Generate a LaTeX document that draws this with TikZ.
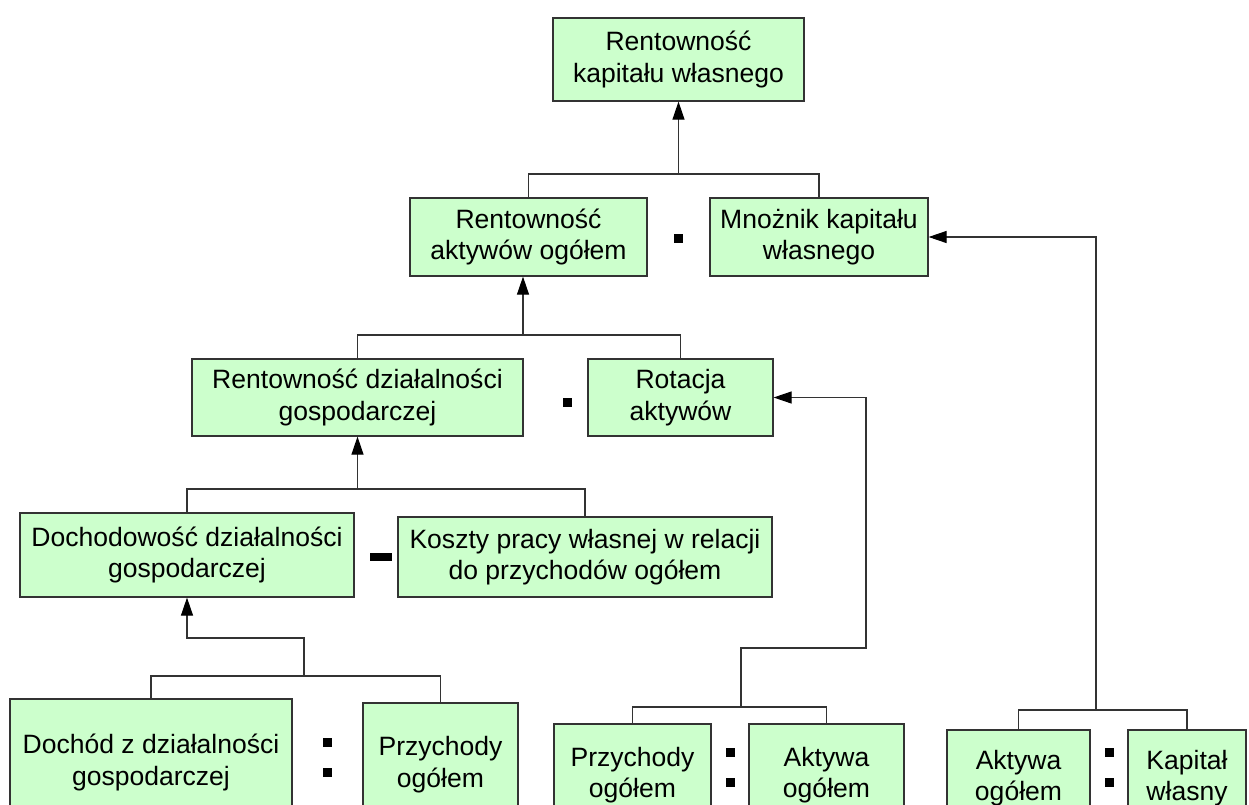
\documentclass[tikz,border=0pt]{standalone}
\usepackage{fontspec}
\setmainfont{Liberation Sans}
\usetikzlibrary{arrows.meta}
\definecolor{zielony}{HTML}{CCFFCC}
\definecolor{ramka}{HTML}{333333}
\tikzset{
  pole/.style={draw=ramka, fill=zielony, line width=0.7pt, align=center, inner sep=0pt,
    font=\fontsize{15.1}{18}\selectfont},
  linia/.style={draw=ramka, line width=0.6pt},
  strzalka/.style={linia, -{Triangle[length=0.36cm,width=0.24cm,color=black]}},
  kropka/.style={fill=black, inner sep=0pt, minimum size=0.18cm},
  minus/.style={fill=black, inner sep=0pt, minimum width=0.44cm, minimum height=0.16cm}
}

\begin{document}
\begin{tikzpicture}[x=0.02cm, y=-0.02cm]
  %%%%% START %%%%%
  \clip (0,0) rectangle (1249,805);

  \node[pole, minimum width=5.02cm, minimum height=1.66cm] (rke) at (678.5,59.5) {Rentowność\\kapitału własnego};

  \node[pole, minimum width=4.74cm, minimum height=1.56cm] (rao) at (528.5,237) {Rentowność\\aktywów ogółem};
  \node[pole, minimum width=4.36cm, minimum height=1.56cm] (mkw) at (819,237) {Mnożnik kapitału\\własnego};
  \node[kropka] (k1) at (678,238) {};

  \node[pole, minimum width=6.62cm, minimum height=1.54cm] (rdg) at (357.5,397.5) {Rentowność działalności\\gospodarczej};
  \node[pole, minimum width=3.70cm, minimum height=1.54cm] (rot) at (680.5,397.5) {Rotacja\\aktywów};
  \node[kropka] (k2) at (567,402) {};

  \node[pole, minimum width=6.68cm, minimum height=1.68cm] (ddg) at (187,555) {Dochodowość działalności\\gospodarczej};
  \node[pole, minimum width=7.48cm, minimum height=1.60cm] (kpw) at (585,557) {Koszty pracy własnej w relacji\\do przychodów ogółem};
  \node[minus] (m1) at (381,557) {};

  \node[pole, minimum width=5.64cm, minimum height=2.54cm] (dzd) at (151,762.5) {Dochód z działalności\\gospodarczej};
  \node[pole, minimum width=3.10cm, minimum height=2.46cm] (prz1) at (440.5,764.5) {Przychody\\ogółem};
  \node[kropka] (k3) at (327,742) {};
  \node[kropka] (k4) at (327,772) {};

  \node[pole, minimum width=3.14cm, minimum height=2.04cm] (prz2) at (632.5,775) {Przychody\\ogółem};
  \node[pole, minimum width=3.10cm, minimum height=2.04cm] (akt1) at (826.5,775) {Aktywa\\ogółem};
  \node[kropka] (k5) at (730,752) {};
  \node[kropka] (k6) at (730,782) {};

  \node[pole, minimum width=2.86cm, minimum height=1.92cm] (akt2) at (1018.5,778) {Aktywa\\ogółem};
  \node[pole, minimum width=2.36cm, minimum height=1.92cm] (kap) at (1187,778) {Kapitał\\własny};
  \node[kropka] (k7) at (1109,752) {};
  \node[kropka] (k8) at (1109,782) {};

  % laczenia
  \coordinate (w1) at (678.5,174);
  \draw[linia] (rao.north) |- (w1) -| (mkw.north);
  \draw[strzalka] (w1) -- (rke.south);

  \coordinate (w2) at (523,335);
  \draw[linia] (rdg.north) |- (w2) -| (rot.north);
  \draw[strzalka] (w2) -- (w2 |- rao.south);

  \coordinate (w3) at (357.5,489);
  \draw[linia] (ddg.north) |- (w3) -| (kpw.north);
  \draw[strzalka] (w3) -- (rdg.south);

  \coordinate (w4) at (304,676);
  \coordinate (z4) at (304,638);
  \draw[linia] (dzd.north) |- (w4) -| (prz1.north);
  \draw[strzalka] (w4) -- (z4) -| (ddg.south);

  \coordinate (w5) at (741,707);
  \coordinate (z5a) at (741,648);
  \coordinate (z5b) at (866,648);
  \draw[linia] (prz2.north) |- (w5) -| (akt1.north);
  \draw[strzalka] (w5) -- (z5a) -- (z5b) |- (rot.east);

  \coordinate (w6) at (1096,710);
  \draw[linia] (akt2.north) |- (w6) -| (kap.north);
  \draw[strzalka] (w6) |- (mkw.east);

  %%%%% END %%%%%
\end{tikzpicture}
\end{document}
